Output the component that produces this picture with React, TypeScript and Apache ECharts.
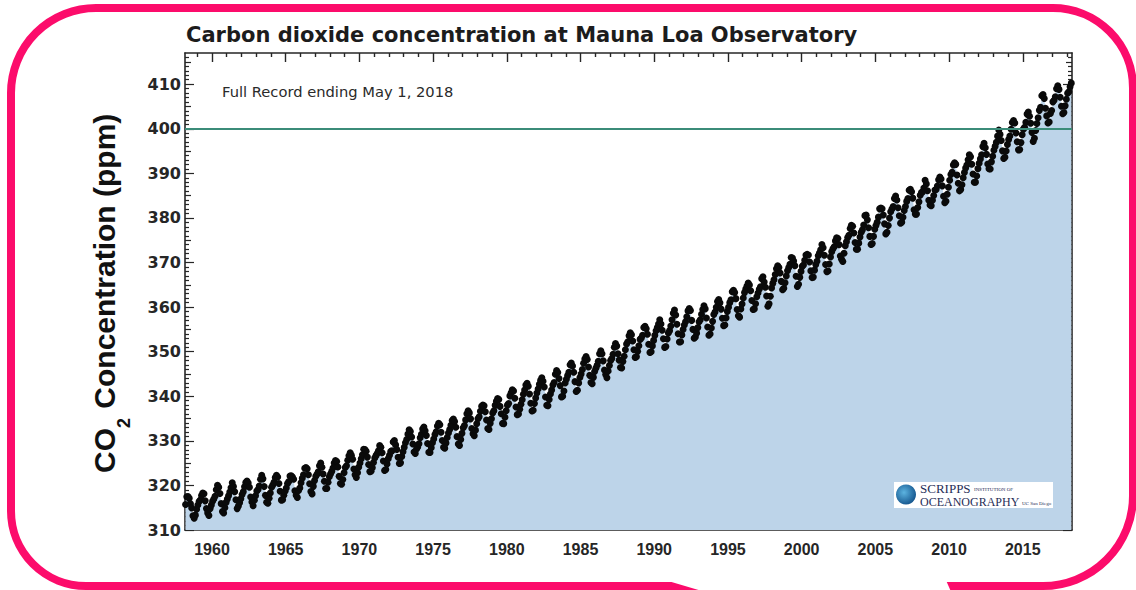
import React, { useEffect, useRef } from "react";
import * as echarts from "echarts";

// Monthly mean CO2 (ppm) at Mauna Loa, first value = March 1958
const START_YEAR = 1958;
const START_MONTH = 3;

const co2_1958_1969 = [
  315.71, 317.45, 317.5, 317.1, 315.86, 314.93, 313.2, 312.66, 313.33, 314.67,
  315.62, 316.38, 316.71, 317.72, 318.29, 318.15, 316.54, 314.8, 313.84, 313.26, 314.8, 315.58,
  316.43, 316.97, 317.58, 319.02, 320.03, 319.59, 318.18, 315.91, 314.16, 313.83, 315.0, 316.19,
  316.93, 317.7, 318.54, 319.48, 320.58, 319.77, 318.57, 316.79, 314.8, 315.38, 316.1, 317.01,
  317.94, 318.56, 319.68, 320.63, 321.01, 320.55, 319.58, 317.4, 316.26, 315.42, 316.69, 317.69,
  318.74, 319.08, 319.86, 321.39, 322.25, 321.47, 319.74, 317.77, 316.21, 315.99, 317.12, 318.31,
  319.57, 320.07, 320.73, 321.77, 322.25, 321.89, 320.44, 318.7, 316.7, 316.79, 317.79, 318.71,
  319.44, 320.44, 320.89, 322.13, 322.16, 321.87, 321.39, 318.81, 317.81, 317.3, 318.87, 319.42,
  320.62, 321.59, 322.39, 323.87, 324.01, 323.75, 322.39, 320.37, 318.64, 318.1, 319.79, 321.08,
  322.07, 322.5, 323.04, 324.42, 325.0, 324.09, 322.55, 320.92, 319.31, 319.31, 320.72, 321.96,
  322.57, 323.15, 323.89, 325.02, 325.57, 325.36, 324.14, 322.03, 320.41, 320.25, 321.31, 322.84,
  324.0, 324.42, 325.64, 326.66, 327.34, 326.76, 325.88, 323.67, 322.38, 321.78, 322.85, 324.11,
];
const co2_1970s = [
  325.03, 325.99, 326.87, 328.13, 328.07, 327.66, 326.35, 324.69, 323.1, 323.16, 323.98, 325.13,
  326.17, 326.68, 327.18, 327.78, 328.92, 328.57, 327.34, 325.46, 323.36, 323.57, 324.8, 326.01,
  326.77, 327.63, 327.75, 329.72, 330.07, 329.09, 328.05, 326.32, 324.93, 325.06, 326.5, 327.55,
  328.54, 329.56, 330.3, 331.5, 332.48, 332.07, 330.87, 329.31, 327.51, 327.18, 328.16, 328.64,
  329.35, 330.71, 331.48, 332.65, 333.09, 332.25, 331.18, 329.4, 327.43, 327.37, 328.46, 329.57,
  330.4, 331.4, 332.04, 333.31, 333.96, 333.59, 331.91, 330.06, 328.56, 328.34, 329.49, 330.76,
  331.75, 332.56, 333.5, 334.58, 334.87, 334.34, 333.05, 330.94, 329.3, 328.94, 330.31, 331.68,
  332.93, 333.42, 334.7, 336.07, 336.74, 336.27, 334.93, 332.75, 331.58, 331.16, 332.4, 333.85,
  334.97, 335.38, 336.64, 337.76, 338.01, 337.89, 336.54, 334.68, 332.76, 332.54, 333.92, 334.95,
  336.23, 336.76, 337.96, 338.88, 339.47, 339.29, 337.73, 336.09, 333.91, 333.86, 335.29, 336.73,
];
const co2_1980s = [
  338.01, 338.36, 340.08, 340.77, 341.46, 341.17, 339.56, 337.6, 335.88, 336.01, 337.1, 338.21,
  339.23, 340.47, 341.38, 342.51, 342.91, 342.25, 340.49, 338.43, 336.69, 336.85, 338.36, 339.61,
  340.75, 341.61, 342.7, 343.56, 344.13, 343.35, 342.06, 339.82, 337.97, 337.86, 339.26, 340.49,
  341.38, 342.52, 343.1, 344.94, 345.75, 345.32, 343.99, 342.39, 339.86, 339.99, 341.16, 342.99,
  343.82, 344.63, 345.4, 347.08, 347.43, 346.79, 345.4, 343.28, 341.07, 341.35, 342.98, 344.22,
  344.97, 345.99, 347.42, 348.35, 348.93, 348.25, 346.56, 344.69, 343.09, 342.8, 344.24, 345.56,
  346.3, 346.95, 347.85, 349.55, 350.21, 349.54, 347.94, 345.91, 344.86, 344.17, 345.66, 346.9,
  348.02, 348.47, 349.42, 350.99, 351.84, 351.25, 349.52, 348.1, 346.44, 346.36, 347.81, 348.96,
  350.43, 351.72, 352.22, 353.59, 354.22, 353.79, 352.39, 350.44, 348.72, 348.88, 350.07, 351.34,
  352.76, 353.07, 353.68, 355.42, 355.67, 355.13, 353.9, 351.67, 349.8, 349.99, 351.3, 352.53,
];
const co2_1990s = [
  353.66, 354.7, 355.39, 356.2, 357.16, 356.22, 354.82, 352.91, 350.96, 351.18, 352.83, 354.21,
  354.72, 355.75, 357.16, 358.6, 359.34, 358.24, 356.17, 354.03, 352.16, 352.21, 353.75, 354.99,
  355.99, 356.72, 357.81, 359.15, 359.66, 359.25, 357.02, 355.0, 353.01, 353.31, 354.16, 355.4,
  356.7, 357.17, 358.38, 359.46, 360.28, 359.6, 357.57, 355.52, 353.7, 353.98, 355.33, 356.8,
  358.36, 358.91, 359.97, 361.26, 361.68, 360.95, 359.55, 357.49, 355.84, 356.0, 357.58, 359.04,
  359.96, 361.0, 361.64, 363.45, 363.79, 363.26, 361.9, 359.46, 358.06, 357.75, 359.56, 360.7,
  362.05, 363.25, 364.03, 364.72, 365.41, 364.97, 363.65, 361.49, 359.46, 359.6, 360.76, 362.33,
  363.18, 364.0, 364.57, 366.35, 366.79, 365.62, 364.47, 362.51, 360.19, 360.77, 362.43, 364.28,
  365.32, 366.15, 367.31, 368.61, 369.29, 368.87, 367.64, 365.77, 363.9, 364.23, 365.46, 366.97,
  368.15, 368.87, 369.59, 371.14, 371.0, 370.35, 369.27, 366.94, 364.63, 365.12, 366.67, 368.01,
];
const co2_2000s = [
  369.14, 369.46, 370.52, 371.66, 371.82, 371.7, 370.12, 368.12, 366.62, 366.73, 368.29, 369.53,
  370.28, 371.5, 372.12, 372.87, 374.02, 373.3, 371.62, 369.55, 367.96, 368.09, 369.68, 371.24,
  372.44, 373.08, 373.52, 374.85, 375.55, 375.4, 374.02, 371.48, 370.71, 370.25, 372.08, 373.78,
  374.68, 375.62, 376.11, 377.65, 378.35, 378.13, 376.62, 374.5, 372.99, 373.0, 374.35, 375.7,
  376.79, 377.37, 378.41, 380.52, 380.63, 379.57, 377.79, 375.86, 374.06, 374.24, 375.86, 377.48,
  378.31, 379.04, 380.18, 382.04, 382.24, 382.08, 380.67, 378.67, 376.42, 376.8, 378.31, 379.96,
  381.37, 382.02, 382.56, 384.37, 384.92, 384.03, 382.28, 380.48, 378.81, 379.06, 380.14, 381.66,
  382.58, 383.71, 384.34, 386.23, 386.41, 385.87, 384.45, 381.84, 380.86, 380.86, 382.36, 383.61,
  385.07, 385.72, 385.85, 386.71, 388.45, 387.64, 386.1, 383.95, 382.91, 382.73, 383.96, 385.02,
  386.26, 386.39, 387.16, 388.54, 389.16, 388.73, 387.2, 384.85, 383.39, 383.76, 385.33, 386.89,
];
const co2_2010s = [
  388.46, 389.73, 390.27, 391.9, 392.39, 392.02, 389.65, 387.77, 386.08, 386.37, 387.44, 389.0,
  390.18, 391.18, 391.88, 393.03, 394.19, 393.7, 392.05, 389.84, 388.0, 388.03, 389.39, 391.06,
  392.28, 393.25, 394.17, 396.0, 396.76, 395.75, 394.26, 392.11, 391.06, 390.98, 392.58, 393.85,
  395.18, 396.05, 396.95, 398.35, 399.72, 398.74, 397.38, 395.05, 393.35, 393.61, 395.02, 396.46,
  397.57, 398.36, 399.91, 401.4, 401.83, 401.31, 399.04, 397.09, 395.27, 395.33, 396.9, 398.67,
  399.92, 400.31, 401.48, 403.29, 403.76, 402.83, 401.23, 399.2, 397.15, 397.87, 399.61, 401.17,
  402.49, 404.13, 404.83, 407.42, 407.7, 406.8, 404.6, 402.89, 401.29, 401.51, 403.45, 404.1,
  406.04, 406.42, 407.18, 409.0, 409.65, 408.84, 407.07, 405.07, 403.38, 403.64, 405.14, 406.64,
  407.96, 408.32, 409.41, 410.24,
];

const xMajorTicks = [1960, 1965, 1970, 1975, 1980, 1985, 1990, 1995, 2000, 2005, 2010, 2015];
const yMajorTicks = [310, 320, 330, 340, 350, 360, 370, 380, 390, 400, 410];
const X_MIN = 1958.17;
const X_MAX = 2018.34;
const Y_MIN = 310;
const Y_MAX = 417;
const REFERENCE_LEVEL = 400;

const TITLE = "Carbon dioxide concentration at Mauna Loa Observatory";
const NOTE = "Full Record ending May 1, 2018";

const xMinorTicks: number[] = [];
for (let y = 1959; y <= 2018; y++) if (y % 5 !== 0) xMinorTicks.push(y);
const yMidTicks: number[] = [];
for (let v = 315; v <= 415; v += 10) yMidTicks.push(v);
const yMinorTicks: number[] = [];
for (let v = 311; v <= 416; v++) if (v % 5 !== 0) yMinorTicks.push(v);

const AXIS_COLOR = "#262626";
const LOGO_Z = 50;

export default function App() {
  const ref = useRef<HTMLDivElement>(null);

  useEffect(() => {
    if (!ref.current) return;
    const chart = echarts.init(ref.current, undefined, { renderer: "svg" });

    const all = [...co2_1958_1969, ...co2_1970s, ...co2_1980s, ...co2_1990s, ...co2_2000s, ...co2_2010s];
    const points = all.map((v, i) => {
      const mi = START_MONTH - 1 + i;
      const year = START_YEAR + Math.floor(mi / 12);
      const month = mi % 12;
      return [year + (month + 0.5) / 12, v];
    });

    const baseX = (position: string, ticks: number[], len: number, withLine: boolean, withLabels: boolean) => ({
      type: "value",
      position,
      min: X_MIN,
      max: X_MAX,
      axisLine: { show: withLine, onZero: false, lineStyle: { color: AXIS_COLOR, width: 1.6 } },
      axisTick: { show: true, inside: true, length: len, customValues: ticks, lineStyle: { color: AXIS_COLOR, width: 1.4 } },
      axisLabel: withLabels
        ? {
            show: true,
            customValues: ticks,
            formatter: (v: number) => String(Math.round(v)),
            margin: 11,
            fontFamily: "Liberation Sans",
            fontWeight: "bold",
            fontSize: 16,
            color: "#262626",
          }
        : { show: false },
      splitLine: { show: false },
    });
    const baseY = (position: string, ticks: number[], len: number, withLine: boolean, withLabels: boolean) => ({
      type: "value",
      position,
      min: Y_MIN,
      max: Y_MAX,
      axisLine: { show: withLine, onZero: false, lineStyle: { color: AXIS_COLOR, width: 1.6 } },
      axisTick: { show: true, inside: true, length: len, customValues: ticks, lineStyle: { color: AXIS_COLOR, width: 1.2 } },
      axisLabel: withLabels
        ? {
            show: true,
            customValues: ticks,
            formatter: (v: number) => String(Math.round(v)),
            margin: 4,
            fontFamily: "DejaVu Sans",
            fontWeight: "bold",
            fontSize: 16,
            color: "#262626",
          }
        : { show: false },
      splitLine: { show: false },
    });

    const logoText = (text: string, x: number, y: number, size: number) => ({
      type: "text",
      z: LOGO_Z + 2,
      x,
      y,
      style: {
        text,
        fontFamily: "Liberation Serif",
        fontSize: size,
        fill: "#1f2e57",
        textAlign: "left",
        textVerticalAlign: "middle",
      },
    });

    chart.setOption({
      animation: false,
      backgroundColor: "#ffffff",
      grid: { left: 185, right: 64, top: 53, bottom: 60, containLabel: false },
      xAxis: [
        baseX("bottom", xMajorTicks, 10, true, true),
        baseX("bottom", xMinorTicks, 4, false, false),
        baseX("top", xMajorTicks, 9, true, false),
        baseX("top", xMinorTicks, 4, false, false),
      ],
      yAxis: [
        baseY("left", yMajorTicks, 9, true, true),
        baseY("left", yMidTicks, 6, false, false),
        baseY("left", yMinorTicks, 4, false, false),
        baseY("right", yMajorTicks, 9, true, false),
        baseY("right", yMidTicks, 6, false, false),
        baseY("right", yMinorTicks, 4, false, false),
      ],
      series: [
        {
          type: "line",
          name: "area",
          xAxisIndex: 0,
          yAxisIndex: 0,
          data: points,
          symbol: "none",
          silent: true,
          lineStyle: { width: 0, opacity: 0 },
          areaStyle: { color: "#bdd4e9", opacity: 1 },
          markLine: {
            silent: true,
            symbol: ["none", "none"],
            label: { show: false },
            lineStyle: { color: "#3b8c79", width: 2, type: "solid" },
            data: [{ yAxis: REFERENCE_LEVEL }],
          },
          z: 1,
        },
        {
          type: "scatter",
          name: "CO2",
          xAxisIndex: 0,
          yAxisIndex: 0,
          data: points,
          symbol: "circle",
          symbolSize: 7,
          itemStyle: { color: "#0a0a0a", opacity: 1 },
          silent: true,
          z: 3,
        },
      ],
      graphic: [
        {
          type: "text",
          x: 186,
          y: 35,
          style: {
            text: TITLE,
            fontFamily: "DejaVu Sans",
            fontWeight: "bold",
            fontSize: 21,
            fill: "#1c1c1c",
            textAlign: "left",
            textVerticalAlign: "middle",
          },
        },
        {
          type: "text",
          x: 222,
          y: 91,
          style: {
            text: NOTE,
            fontFamily: "DejaVu Sans",
            fontSize: 14.7,
            fill: "#2a2a2a",
            textAlign: "left",
            textVerticalAlign: "middle",
          },
        },
        {
          type: "group",
          x: 104,
          y: 473,
          rotation: Math.PI / 2,
          children: [
            {
              type: "text",
              x: 0,
              y: 0,
              style: { text: "CO", fontFamily: "Liberation Sans", fontWeight: "bold", fontSize: 30, fill: "#111", textAlign: "left", textVerticalAlign: "middle" },
            },
            {
              type: "text",
              x: 45,
              y: 20,
              style: { text: "2", fontFamily: "Liberation Sans", fontWeight: "bold", fontSize: 18, fill: "#111", textAlign: "left", textVerticalAlign: "middle" },
            },
            {
              type: "text",
              x: 56,
              y: 0,
              style: { text: " Concentration (ppm)", fontFamily: "Liberation Sans", fontWeight: "bold", fontSize: 30, fill: "#111", textAlign: "left", textVerticalAlign: "middle" },
            },
          ],
        },
        {
          type: "group",
          x: 894,
          y: 482,
          children: [
            { type: "rect", z: LOGO_Z, shape: { x: 0, y: 0, width: 159, height: 26 }, style: { fill: "#ffffff" } },
            {
              type: "circle",
              z: LOGO_Z + 1,
              shape: { cx: 12, cy: 12.5, r: 10 },
              style: {
                fill: {
                  type: "radial",
                  x: 0.4,
                  y: 0.4,
                  r: 0.7,
                  colorStops: [
                    { offset: 0, color: "#5cb3e0" },
                    { offset: 1, color: "#0d4c85" },
                  ],
                },
              },
            },
            logoText("SCRIPPS", 26, 6, 13),
            logoText("INSTITUTION OF", 80, 7, 5),
            logoText("OCEANOGRAPHY", 26, 19.5, 12),
            logoText("UC San Diego", 128, 21, 5),
          ],
        },
        {
          type: "rect",
          z: 60,
          shape: { x: 11, y: 8, width: 1122, height: 578, r: [85, 80, 90, 75] },
          style: { fill: "none", stroke: "#fc0c6b", lineWidth: 8 },
        },
        {
          type: "polygon",
          z: 61,
          shape: { points: [[658, 578], [945, 578], [952, 594], [712, 594]] },
          style: { fill: "#ffffff" },
        },
      ],
    });

    return () => chart.dispose();
  }, []);

  return (
    <div
      ref={ref}
      style={{ position: "fixed", left: 0, top: 0, width: 1136, height: 590, background: "#fff" }}
    />
  );
}
